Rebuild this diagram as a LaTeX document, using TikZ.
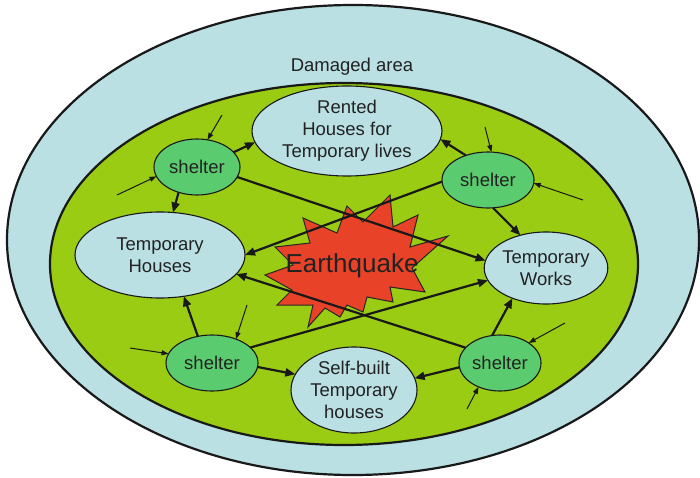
\documentclass[tikz,border=0pt]{standalone}
\usepackage{fontspec}
\setmainfont{Liberation Sans}
\usetikzlibrary{shapes.geometric,arrows.meta}
\definecolor{areablue}{HTML}{BAE0E4}
\definecolor{zonegreen}{HTML}{99CC12}
\definecolor{shelgreen}{HTML}{5BCB70}
\definecolor{quakered}{HTML}{E84228}
\definecolor{inkgray}{HTML}{222222}
\begin{document}
\begin{tikzpicture}[x=1pt,y=-1pt,
  region/.style={draw=black!90, line width=2.2pt},
  place/.style={ellipse, draw=black!90, line width=1.1pt, fill=areablue,
    inner sep=0pt, outer sep=0pt, align=center,
    font=\fontsize{18.5}{22}\selectfont, text=inkgray},
  shelter/.style={place, fill=shelgreen, minimum height=56pt},
  link/.style={line width=2.2pt, draw=black!90, -{Triangle[length=10pt,width=8pt]}},
  feed/.style={line width=1pt, draw=black!90, -{Triangle[length=7pt,width=5pt]}}
]
\useasboundingbox (0,0) rectangle (700,478);
\fill[white] (0,0) rectangle (700,478);

% damaged area and the inner zone
\draw[region, fill=areablue] (353,240) ellipse [x radius=346, y radius=235];
\node[font=\fontsize{18.5}{22}\selectfont, text=inkgray] (area) at (352,67) {Damaged area};
\draw[region, fill=zonegreen] (344,264) ellipse [x radius=294, y radius=181];

% housing options
\node[place, minimum width=190pt, minimum height=90pt] (rented) at (347,131)
  {Rented\\Houses for\\Temporary lives};
\node[place, minimum width=170pt, minimum height=86pt] (thouses) at (160,255)
  {Temporary\\Houses};
\node[place, minimum width=122pt, minimum height=72pt] (works) at (546,268)
  {Temporary\\Works};
\node[place, minimum width=126pt, minimum height=86pt] (selfb) at (354,390)
  {Self-built\\Temporary\\houses};

% shelters
\node[shelter, minimum width=86pt] (shTL) at (197,167) {shelter};
\node[shelter, minimum width=92pt] (shTR) at (488,180) {shelter};
\node[shelter, minimum width=92pt] (shBL) at (212,363) {shelter};
\node[shelter, minimum width=82pt] (shBR) at (500,363) {shelter};

% earthquake burst
\draw[line width=1pt, draw=black!85, fill=quakered]
  (390,195) -- (393,227) -- (418,215) -- (410,247) -- (448,236) -- (412,268)
  -- (425,292) -- (390,287) -- (393,302) -- (367,297) -- (363,312) -- (347,305)
  -- (340,317) -- (325,308) -- (308,327) -- (313,305) -- (277,305) -- (292,290)
  -- (265,275) -- (293,265) -- (275,247) -- (310,243) -- (303,218) -- (337,233)
  -- (347,206) -- (363,222) -- cycle;

% connectors from the top-left shelter
\draw[link] (shTL.22) -- (rented.187);
\draw[link] (shTL.-126) -- (thouses.73);
\draw[link] (shTL.-14) -- (works.173);

% connectors from the top-right shelter
\draw[link] (shTR.132) -- (rented.-5);
\draw[link] (shTR.-80) -- (works.128);
\draw[link] (shTR.182) -- (thouses.0);

% connectors from the bottom-left shelter
\draw[link] (shBL.118) -- (thouses.-60);
\draw[link] (shBL.-5) -- (selfb.165);
\draw[link] (shBL.22) -- (works.192);

% connectors from the bottom-right shelter
\draw[link] (shBR.106) -- (works.-138);
\draw[link] (shBR.186) -- (selfb.11);
\draw[link] (shBR.156) -- (thouses.-14);

% incoming flows
\coordinate (inA) at (222,115);
\coordinate (inB) at (117,195);
\coordinate (inC) at (485,127);
\coordinate (inD) at (583,200);
\coordinate (inE) at (130,348);
\coordinate (inF) at (247,305);
\coordinate (inG) at (565,323);
\coordinate (inH) at (467,409);
\draw[feed] (inA) -- (shTL.69);
\draw[feed] (inB) -- (shTL.193);
\draw[feed] (inC) -- (shTR.83);
\draw[feed] (inD) -- (shTR.-4);
\draw[feed] (inE) -- (shBL.168);
\draw[feed] (inF) -- (shBL.45);
\draw[feed] (inG) -- (shBR.35);
\draw[feed] (inH) -- (shBR.-132);

\node[font=\fontsize{26}{30}\selectfont, text=inkgray] (quake) at (352,266) {Earthquake};
\end{tikzpicture}
\end{document}
